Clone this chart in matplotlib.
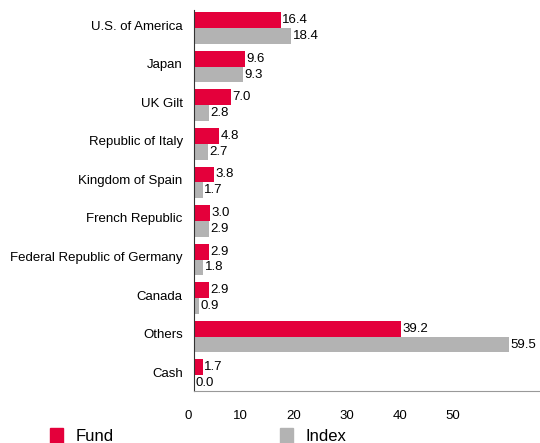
import matplotlib.pyplot as plt
import matplotlib.transforms as mtransforms
import matplotlib.patches as mpatches
import numpy as np

plt.rcParams['font.family'] = ['Liberation Sans', 'DejaVu Sans']

categories = ["U.S. of America", "Japan", "UK Gilt", "Republic of Italy",
              "Kingdom of Spain", "French Republic", "Federal Republic of Germany",
              "Canada", "Others", "Cash"]
fund = [16.4, 9.6, 7.0, 4.8, 3.8, 3.0, 2.9, 2.9, 39.2, 1.7]
index = [18.4, 9.3, 2.8, 2.7, 1.7, 2.9, 1.8, 0.9, 59.5, 0.0]
xticks = [0, 10, 20, 30, 40, 50]

red = "#e4003b"
grey = "#b3b3b3"

fig = plt.figure(figsize=(5.4, 4.43), dpi=100)
ax = fig.add_axes([0.359, 1 - 391 / 443, 0.641, 381 / 443])

y = np.arange(len(categories))
h = 0.41
ax.barh(y - h / 2, fund, height=h, color=red)
ax.barh(y + h / 2, index, height=h, color=grey)

for yi, v in zip(y, fund):
    ax.text(v + 0.3, yi - h / 2, f"{v:.1f}", va="center", ha="left", fontsize=9.5)
for yi, v in zip(y, index):
    ax.text(v + 0.3, yi + h / 2, f"{v:.1f}", va="center", ha="left", fontsize=9.5)

ax.set_ylim(9.41, -0.47)
ax.set_xlim(0, 65.4)
ax.set_yticks(y)
ax.set_yticklabels(categories, fontsize=9.5)
ax.set_xticks(xticks)
ax.set_xticklabels([str(t) for t in xticks], fontsize=9.5)
ax.tick_params(axis="both", length=0)
ax.tick_params(axis="y", pad=8)
ax.tick_params(axis="x", pad=14)

# tick labels sit a bit left of their tick / a bit above the group centre
xoff = mtransforms.ScaledTranslation(-6 / 100, 0, fig.dpi_scale_trans)
for lbl in ax.get_xticklabels():
    lbl.set_transform(lbl.get_transform() + xoff)
yoff = mtransforms.ScaledTranslation(0, 3 / 100, fig.dpi_scale_trans)
for lbl in ax.get_yticklabels():
    lbl.set_transform(lbl.get_transform() + yoff)

for s in ["top", "right"]:
    ax.spines[s].set_visible(False)
ax.spines["left"].set_color("#333333")
ax.spines["left"].set_linewidth(0.8)
ax.spines["bottom"].set_color("#999999")
ax.spines["bottom"].set_linewidth(0.8)

handles = [mpatches.Patch(color=red, label="Fund"),
           mpatches.Patch(color=grey, label="Index")]
fig.legend(handles=handles, loc="center left", bbox_to_anchor=(50 / 540, 7 / 443),
           ncol=2, frameon=False, fontsize=12, borderpad=0, borderaxespad=0,
           handlelength=0.75, handleheight=1.0, columnspacing=10,
           handletextpad=0.78)

plt.savefig("out.png", dpi=100)
